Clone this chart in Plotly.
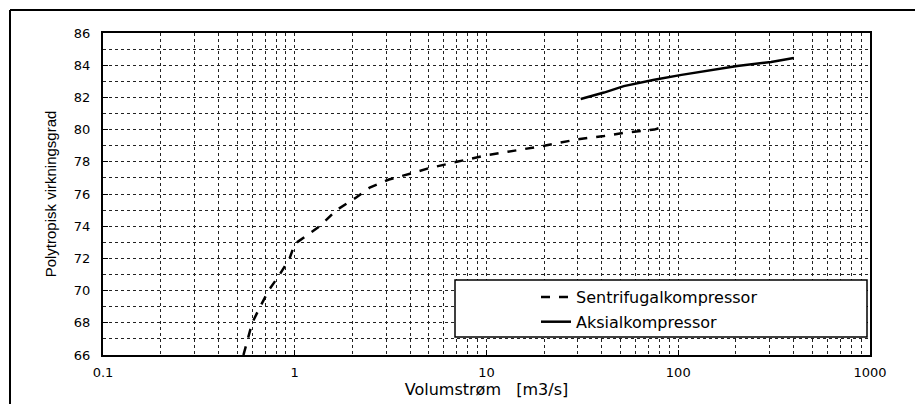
import plotly.graph_objects as go

# Sentrifugalkompressor (dashed)
sent_x = [0.54, 0.60, 0.66, 0.73, 0.835, 0.94, 1.0, 1.35, 1.65, 2.1, 2.46, 3.1, 4.1, 5.0, 7.0, 10, 20, 30, 41, 52, 75, 85]
sent_y = [66.0, 68.0, 69.0, 70.0, 71.0, 72.0, 72.9, 74.0, 75.0, 75.8, 76.4, 76.9, 77.3, 77.6, 78.0, 78.4, 79.0, 79.4, 79.6, 79.8, 80.0, 80.2]

# Aksialkompressor (solid)
aks_x = [31, 41, 52, 75, 104, 203, 305, 400]
aks_y = [81.9, 82.3, 82.7, 83.1, 83.4, 83.95, 84.2, 84.45]

x_tickvals = [0.1, 1, 10, 100, 1000]
x_ticktext = ["0.1", "1", "10", "100", "1000"]
y_tickvals = [66, 68, 70, 72, 74, 76, 78, 80, 82, 84, 86]

names = ["Sentrifugalkompressor", "Aksialkompressor"]

WIDE = "DejaVu Sans, Verdana, sans-serif"
NARROW = "Liberation Sans, Arial, sans-serif"

fig = go.Figure()
fig.add_trace(go.Scatter(x=sent_x, y=sent_y, mode="lines", name=names[0], legendgroup="a",
                         line=dict(color="black", width=2.5, dash="dash")))
fig.add_trace(go.Scatter(x=aks_x, y=aks_y, mode="lines", name=names[1], legendgroup="b",
                         line=dict(color="black", width=2.5)))

L, R, T, B = 103, 870, 33, 355
W, H = 915, 404
pw, ph = R - L, B - T
def px(xp):
    return (xp - L) / pw
def py(yp):
    return (B - yp) / ph

grid = dict(gridcolor="#222", gridwidth=1, griddash="dot")

fig.update_layout(
    width=W, height=H,
    margin=dict(l=L, r=W - R, t=T, b=H - B, pad=0, autoexpand=False),
    paper_bgcolor="white", plot_bgcolor="white",
    font=dict(family=WIDE, size=13, color="black"),
    showlegend=True,
    legend=dict(x=px(536), y=py(280), xanchor="left", yanchor="top",
                bgcolor="rgba(0,0,0,0)", borderwidth=0,
                font=dict(family=WIDE, size=16, color="black"),
                itemwidth=30, tracegroupgap=1),
    xaxis=dict(type="log", range=[-1, 3], tickvals=x_tickvals, ticktext=x_ticktext,
               ticks="inside", ticklen=5, tickcolor="black", ticklabelstandoff=4,
               tickfont=dict(family=WIDE, size=13), automargin=False,
               showline=True, linecolor="black", linewidth=2, mirror=True,
               showgrid=True, **grid,
               minor=dict(dtick="D1", showgrid=True, gridcolor="#222", gridwidth=1, griddash="dot", ticks=""),
               title=dict(text="Volumstrøm   [m3/s]", font=dict(family=WIDE, size=16), standoff=5),
               zeroline=False),
    yaxis=dict(range=[66, 86], tickvals=y_tickvals,
               ticks="inside", ticklen=5, tickcolor="black", ticklabelstandoff=8,
               tickfont=dict(family=WIDE, size=13), automargin=False,
               showline=True, linecolor="black", linewidth=2, mirror=True,
               showgrid=True, **grid,
               minor=dict(dtick=1, showgrid=True, gridcolor="#222", gridwidth=1, griddash="dot", ticks=""),
               title=dict(text="Polytropisk virkningsgrad", font=dict(family=NARROW, size=15), standoff=14),
               zeroline=False),
    shapes=[
        dict(type="rect", xref="paper", yref="paper", x0=px(455), x1=px(867), y0=py(337), y1=py(280),
             fillcolor="white", line=dict(color="black", width=1.5), layer="above"),
        dict(type="line", xref="paper", yref="paper", x0=px(10), x1=px(915), y0=py(10), y1=py(10),
             line=dict(color="black", width=2)),
        dict(type="line", xref="paper", yref="paper", x0=px(10), x1=px(10), y0=py(10), y1=py(404),
             line=dict(color="black", width=2)),
    ],
)

fig.write_html("out.html")
